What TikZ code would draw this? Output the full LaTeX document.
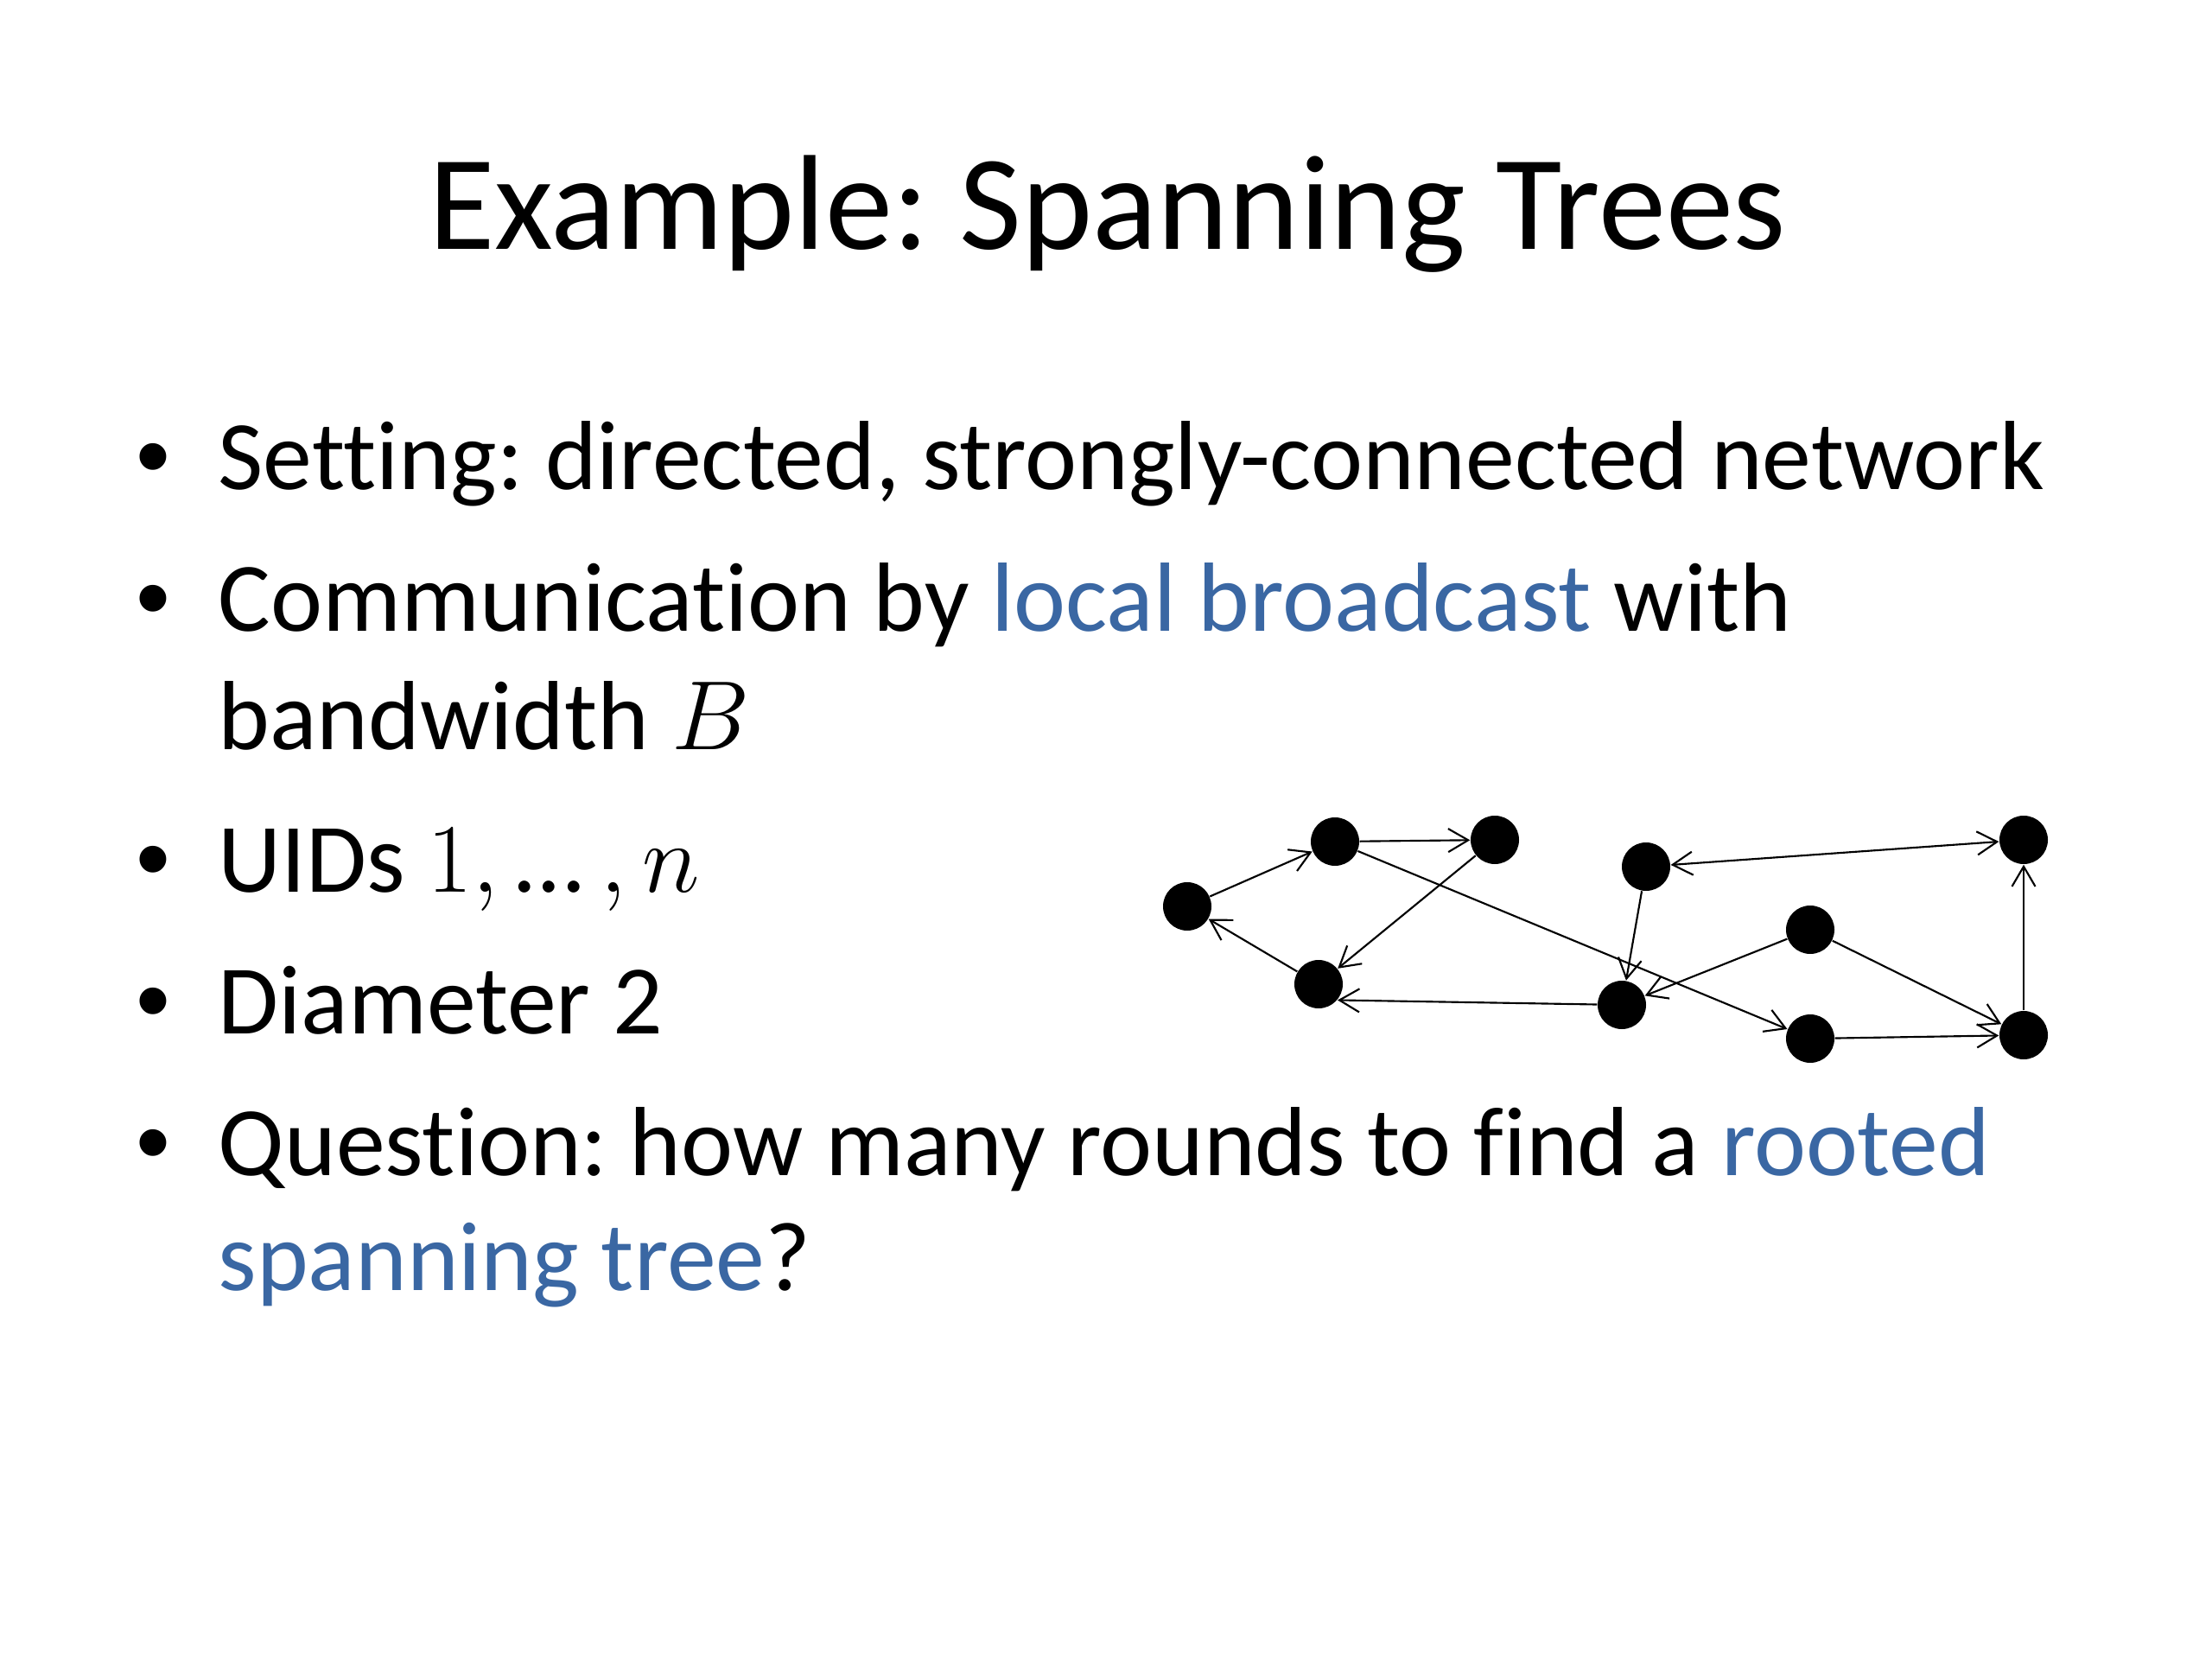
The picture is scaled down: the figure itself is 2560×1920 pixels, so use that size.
\RequirePackage{fix-cm}
\documentclass[tikz,border=0pt]{standalone}
\usepackage{fontspec}
\setmainfont[Ligatures=NoCommon]{Carlito}
\newfontfamily\bulletfont{Liberation Sans}
\usepackage{xcolor}
\usetikzlibrary{arrows.meta}
\definecolor{linkblue}{HTML}{3A67A3}
\newcommand{\hl}[1]{\textcolor{linkblue}{#1}}
\frenchspacing

\begin{document}
\begin{tikzpicture}[
    x=0.28125pt, y=-0.28125pt,
    >={Straight Barb[length=6.5pt,width=7.6pt]},
    heading/.style={anchor=base, inner sep=0pt, font=\fontsize{44}{53}\selectfont},
    item/.style={anchor=base west, inner sep=0pt, font=\fontsize{32}{38}\selectfont},
    bul/.style={anchor=base, inner sep=0pt, font=\bulletfont\fontsize{32}{38}\selectfont},
    vertex/.style={circle, fill=black, inner sep=0pt, minimum size=15.75pt},
    link/.style={->, line width=0.6pt}
]
    \useasboundingbox[fill=white] (0,0) rectangle (2560,1920);

    % Title
    \node[heading] (title) at (1282,289) {Example: Spanning Trees};

    % Bullets
    \node[bul] (b1) at (177,567) {•};
    \node[item] (s1) at (252,567) {Setting: directed, strongly-connected network};
    \node[bul] (b2) at (177,731) {•};
    \node[item] (s2) at (252,731) {Communication by \hl{local broadcast} with};
    \node[item] (s2b) at (252,867) {bandwidth $B$};
    \node[bul] (b3) at (177,1032) {•};
    \node[item] (s3) at (252,1032) {UIDs $1, \hbox{…}\,, n$};
    \node[bul] (b4) at (177,1196) {•};
    \node[item] (s4) at (252,1196) {Diameter 2};
    \node[bul] (b5) at (177,1360) {•};
    \node[item] (s5) at (252,1360) {Question: how many rounds to find a \hl{rooted}};
    \node[item] (s5b) at (252,1493) {\hl{spanning tree}?};

    % Network
    \node[vertex] (v1) at (1374,1049) {};
    \node[vertex] (v2) at (1545,974) {};
    \node[vertex] (v3) at (1730,972) {};
    \node[vertex] (v4) at (1526,1139) {};
    \node[vertex] (v5) at (1905,1003) {};
    \node[vertex] (v6) at (1877,1163) {};
    \node[vertex] (v7) at (2095,1076) {};
    \node[vertex] (v8) at (2095,1202) {};
    \node[vertex] (v9) at (2342,972) {};
    \node[vertex] (v10) at (2342,1198) {};

    % Directed links
    \draw[link] (v1) -- (v2);
    \draw[link] (v2) -- (v3);
    \draw[link] (v3) -- (v4);
    \draw[link] (v4) -- (v1);
    \draw[link] (v6) -- (v4.-40);
    \draw[link] (v2) -- (v8);
    \draw[link] (v5) -- (v6);
    \draw[link] (v7) -- (v6);
    \draw[link, <->] (v5) -- (v9);
    \draw[link] (v7) -- (v10);
    \draw[link] (v8) -- (v10);
    \draw[link] (v10) -- (v9);
\end{tikzpicture}
\end{document}
